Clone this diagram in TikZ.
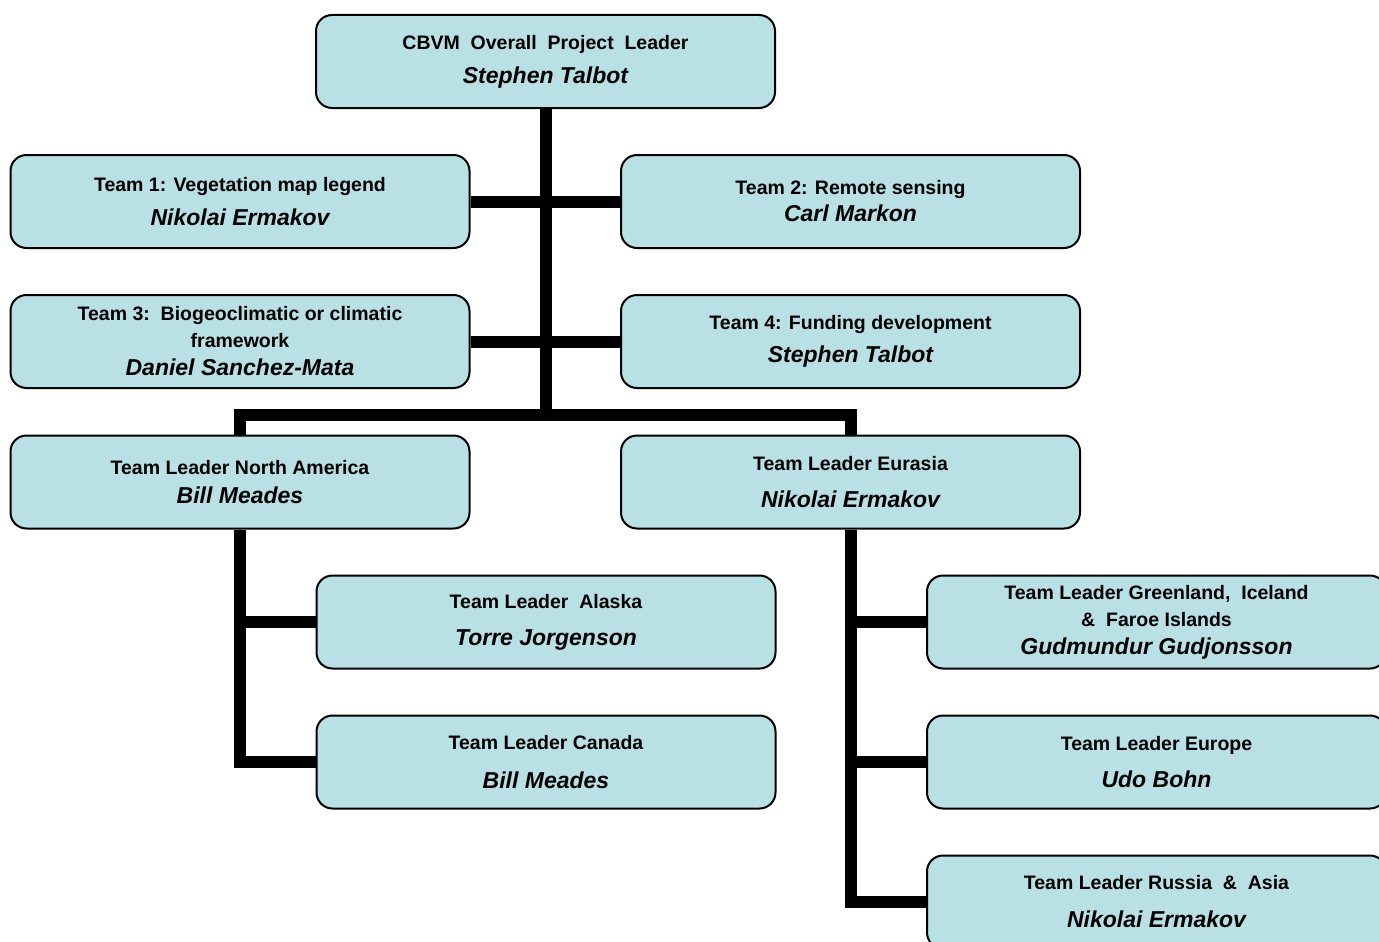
\documentclass[tikz,border=0pt]{standalone}
\usepackage{fontspec}
\setmainfont{Liberation Sans}
\definecolor{boxblue}{RGB}{185,224,228}
\newcommand{\who}[1]{{\fontsize{23}{27}\selectfont\itshape #1}}

\begin{document}
\begin{tikzpicture}[x=1pt,y=-1pt,
  box/.style={draw=black,line width=2pt,fill=boxblue,rounded corners=16pt,
    minimum width=459pt,minimum height=93pt,inner sep=0pt,align=center,
    font=\fontsize{19.5}{27}\selectfont\bfseries},
  link/.style={line width=12pt,line join=miter}]
\clip (0,0) rectangle (1379,942);
\node[box] (P) at (545.5,61.5) {CBVM\ \ Overall\ \ Project\ \ Leader\\[7pt]\who{Stephen Talbot}};
\node[box] (T1) at (240,201.5) {Team 1: Vegetation map legend\\[7pt]\who{Nikolai Ermakov}};
\node[box] (T2) at (850.5,201.5) {Team 2: Remote sensing\\[0pt]\who{Carl Markon}};
\node[box] (T3) at (240,341.5) {Team 3:\ \ Biogeoclimatic or climatic\\[0pt]framework\\[1pt]\who{Daniel Sanchez-Mata}};
\node[box] (T4) at (850.5,341.5) {Team 4: Funding development\\[6pt]\who{Stephen Talbot}};
\node[box] (NA) at (240,482) {Team Leader North America\\[2pt]\who{Bill Meades}};
\node[box] (EU) at (850.5,482) {Team Leader Eurasia\\[10pt]\who{Nikolai Ermakov}};
\node[box] (AK) at (546,622) {Team Leader\ \ Alaska\\[10pt]\who{Torre Jorgenson}};
\node[box] (CA) at (546,762) {Team Leader Canada\\[12pt]\who{Bill Meades}};
\node[box] (GR) at (1156.5,622) {Team Leader Greenland,\ \ Iceland\\[0pt]\&\ \ Faroe Islands\\[1pt]\who{Gudmundur Gudjonsson}};
\node[box] (EP) at (1156.5,762) {Team Leader Europe\\[10pt]\who{Udo Bohn}};
\node[box] (RU) at (1156.5,902) {Team Leader Russia\ \ \&\ \ Asia\\[11pt]\who{Nikolai Ermakov}};
\coordinate (bar) at (545.5,415);
% spine and teams
\draw[link] (P.south) -- (bar);
\draw[link] (T1.east) -- (T2.west);
\draw[link] (T3.east) -- (T4.west);
\draw[link] (NA.north) -- (NA.north |- bar) -- (EU.north |- bar) -- (EU.north);
% regions
\draw[link] (NA.south) |- (CA.west);
\draw[link] (NA.south |- AK.west) -- (AK.west);
\draw[link] (EU.south) |- (RU.west);
\draw[link] (EU.south |- GR.west) -- (GR.west);
\draw[link] (EU.south |- EP.west) -- (EP.west);
\end{tikzpicture}
\end{document}
